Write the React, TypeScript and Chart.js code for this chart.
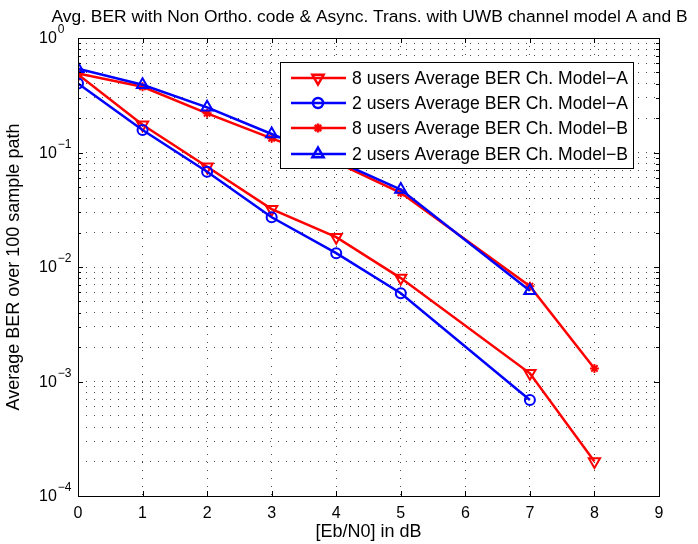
import React, { useEffect, useRef } from "react";
import { Chart, registerables } from "chart.js";
import { drawPoint } from "chart.js/helpers";

Chart.register(...registerables);

const TITLE = "Avg. BER with Non Ortho. code & Async. Trans. with UWB channel model A and B";
const X_TITLE = "[Eb/N0] in dB";
const Y_TITLE = "Average BER over 100 sample path";

const xTicks = [0, 1, 2, 3, 4, 5, 6, 7, 8, 9];
const yDecades = [0, -1, -2, -3, -4];

const seriesNames = [
  "8 users Average BER Ch. Model\u2212A",
  "2 users Average BER Ch. Model\u2212A",
  "8 users Average BER Ch. Model\u2212B",
  "2 users Average BER Ch. Model\u2212B",
];

const xA8 = [0, 1, 2, 3, 4, 5, 7, 8];
const berA8 = [0.48, 0.175, 0.075, 0.032, 0.0182, 0.008, 0.00118, 0.0002];
const xA2 = [0, 1, 2, 3, 4, 5, 7];
const berA2 = [0.4, 0.157, 0.068, 0.0272, 0.0132, 0.0059, 0.00069];
const xB8 = [0, 1, 2, 3, 4, 5, 7, 8];
const berB8 = [0.49, 0.375, 0.22, 0.133, 0.082, 0.0445, 0.0068, 0.0013];
const xB2 = [0, 1, 2, 3, 4, 5, 7];
const berB2 = [0.54, 0.39, 0.248, 0.145, 0.085, 0.0475, 0.0062];

const FONT = "'Liberation Sans', Arial, Helvetica, sans-serif";

const styles = [
  { color: "#ff0000", pointStyle: "triangle", rotation: 180, radius: 6.5 },
  { color: "#0000ff", pointStyle: "circle", rotation: 0, radius: 5 },
  { color: "#ff0000", pointStyle: "star", rotation: 0, radius: 4.5 },
  { color: "#0000ff", pointStyle: "triangle", rotation: 0, radius: 6.5 },
];

const zip = (xs: number[], ys: number[]) => xs.map((x, i) => ({ x, y: ys[i] }));

const matlabPlugin = {
  id: "matlabDecor",
  afterDraw(chart: any) {
    const { ctx, chartArea } = chart;
    const { left, right, top, bottom } = chartArea;
    const xs = chart.scales.x;
    const ys = chart.scales.y;
    ctx.save();
    ctx.strokeStyle = "#000";
    ctx.lineWidth = 1;
    // inward ticks
    ctx.beginPath();
    xTicks.forEach((v) => {
      const px = Math.round(xs.getPixelForValue(v)) + 0.5;
      ctx.moveTo(px, bottom);
      ctx.lineTo(px, bottom - 5);
      ctx.moveTo(px, top);
      ctx.lineTo(px, top + 5);
    });
    yDecades.forEach((d) => {
      for (let m = 1; m <= 9; m++) {
        const v = m * Math.pow(10, d);
        if (v > 1.0001) break;
        if (d === -4 && m > 1) break;
        const py = Math.round(ys.getPixelForValue(v)) + 0.5;
        const len = m === 1 ? 5 : 3;
        ctx.moveTo(left, py);
        ctx.lineTo(left + len, py);
        ctx.moveTo(right, py);
        ctx.lineTo(right - len, py);
      }
    });
    ctx.stroke();
    // box
    ctx.strokeRect(Math.round(left) + 0.5, Math.round(top) + 0.5, Math.round(right - left), Math.round(bottom - top));

    ctx.fillStyle = "#000";
    // x tick labels
    ctx.font = `16px ${FONT}`;
    ctx.textAlign = "center";
    ctx.textBaseline = "middle";
    xTicks.forEach((v) => {
      ctx.fillText(String(v), xs.getPixelForValue(v), bottom + 18);
    });
    // y tick labels
    yDecades.forEach((d) => {
      const py = ys.getPixelForValue(Math.pow(10, d));
      ctx.font = `16px ${FONT}`;
      ctx.textAlign = "left";
      ctx.textBaseline = "middle";
      ctx.fillText("10", 39, py + 1);
      const w = ctx.measureText("10").width;
      ctx.font = `12px ${FONT}`;
      const exp = d === 0 ? "0" : "\u2212" + String(-d);
      ctx.fillText(exp, 39 + w + 1, py - 8);
    });
    // title
    ctx.font = `17.4px ${FONT}`;
    ctx.textAlign = "center";
    ctx.textBaseline = "middle";
    ctx.fillText(TITLE, (left + right) / 2 + 1, 17);
    // x title
    ctx.font = `18px ${FONT}`;
    ctx.fillText(X_TITLE, (left + right) / 2, 532);
    // y title
    ctx.save();
    ctx.translate(14, (top + bottom) / 2);
    ctx.rotate(-Math.PI / 2);
    ctx.fillText(Y_TITLE, 0, 0);
    ctx.restore();

    // legend
    const lx = 280, ly = 62, lw = 353, lh = 106;
    ctx.fillStyle = "#fff";
    ctx.fillRect(lx, ly, lw, lh);
    ctx.strokeStyle = "#000";
    ctx.lineWidth = 1;
    ctx.strokeRect(lx + 0.5, ly + 0.5, lw, lh);
    const rows = [78, 103, 128, 154];
    seriesNames.forEach((name, i) => {
      const s = styles[i];
      const yy = rows[i];
      ctx.strokeStyle = s.color;
      ctx.lineWidth = 2.5;
      ctx.beginPath();
      ctx.moveTo(291, yy);
      ctx.lineTo(346, yy);
      ctx.stroke();
      ctx.fillStyle = "rgba(0,0,0,0)";
      drawPoint(ctx, { pointStyle: s.pointStyle, radius: s.radius, rotation: s.rotation, borderWidth: 2 } as any, 318, yy);
      ctx.fillStyle = "#000";
      ctx.font = `17.6px ${FONT}`;
      ctx.textAlign = "left";
      ctx.textBaseline = "middle";
      ctx.fillText(name, 352, yy + 1);
    });
    ctx.restore();
  },
};

export default function App() {
  const ref = useRef<HTMLCanvasElement | null>(null);
  useEffect(() => {
    document.body.style.margin = "0";
    const canvas = ref.current;
    if (!canvas) return;
    const allData = [zip(xA8, berA8), zip(xA2, berA2), zip(xB8, berB8), zip(xB2, berB2)];
    const datasets = allData.map((d, i) => ({
      label: seriesNames[i],
      data: d,
      borderColor: styles[i].color,
      backgroundColor: "rgba(0,0,0,0)",
      pointBorderColor: styles[i].color,
      pointBackgroundColor: "rgba(0,0,0,0)",
      pointStyle: styles[i].pointStyle,
      pointRotation: styles[i].rotation,
      pointRadius: styles[i].radius,
      pointBorderWidth: 2,
      borderWidth: 2.5,
      tension: 0,
      fill: false,
      order: 4 - i,
    }));
    const yTickVals: number[] = [];
    yDecades.forEach((d) => {
      for (let m = 1; m <= 9; m++) {
        const v = m * Math.pow(10, d);
        if (v > 1.0001) break;
        yTickVals.push(v);
      }
    });
    const gridOpts = { color: "rgba(0,0,0,0.7)", lineWidth: 1, drawTicks: false };
    const chart = new Chart(canvas, {
      type: "line",
      data: { datasets: datasets as any },
      options: {
        animation: false,
        responsive: false,
        devicePixelRatio: 1,
        layout: { padding: { top: 38, right: 39, left: 0, bottom: 0 } },
        plugins: { legend: { display: false }, title: { display: false }, tooltip: { enabled: false } },
        scales: {
          x: {
            type: "linear",
            min: 0,
            max: 9,
            afterBuildTicks: (s: any) => {
              s.ticks = xTicks.map((v) => ({ value: v }));
            },
            afterFit: (s: any) => {
              s.height = 48;
            },
            ticks: { display: false },
            grid: gridOpts,
            border: { display: false, dash: [1, 7] },
          },
          y: {
            type: "logarithmic",
            min: 1e-4,
            max: 1,
            afterBuildTicks: (s: any) => {
              s.ticks = yTickVals.map((v) => ({ value: v }));
            },
            afterFit: (s: any) => {
              s.width = 78;
            },
            ticks: { display: false },
            grid: gridOpts,
            border: { display: false, dash: [1, 7] },
          },
        },
      },
      plugins: [matlabPlugin],
    });
    return () => chart.destroy();
  }, []);
  return (
    <div style={{ width: 698, height: 544, background: "#fff" }}>
      <canvas ref={ref} width={698} height={544} style={{ display: "block" }} />
    </div>
  );
}
